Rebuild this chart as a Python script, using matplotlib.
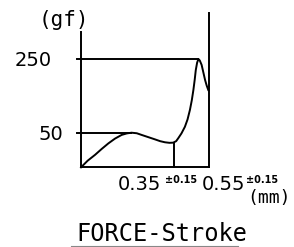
import matplotlib
matplotlib.use('Agg')
import matplotlib.pyplot as plt
import numpy as np

# force-stroke curve, stroke in mm, force in gf (schematic)
stroke = [0.0, 0.025, 0.053, 0.078, 0.103, 0.128, 0.153, 0.172, 0.19, 0.21, 0.228,
          0.253, 0.278, 0.298, 0.316, 0.333, 0.347, 0.358, 0.366, 0.378, 0.391,
          0.401, 0.41, 0.417, 0.423, 0.428, 0.432, 0.437, 0.442, 0.447, 0.454,
          0.461, 0.467, 0.473, 0.479]
force = [-44, -26, -10, 6, 21, 34, 44, 48, 50, 48.5, 44,
         38, 32, 27, 24, 22.5, 23, 27, 35, 48, 66,
         86, 112, 138, 166, 194, 220, 240, 250, 246, 234,
         212, 193, 178, 166]

y_ticks = [50, 250]
y_labels = ['50', '250']
x_marks = [0.35, 0.55]
x_labels = ['0.35', '0.55']
tol = '±0.15'

y_floor = -44
x_end = 0.482
stroke_mark = 0.35
force_at_mark = 23
peak_x = 0.442
hump_x = 0.19

W, H = 294, 247
fig = plt.figure(figsize=(W / 100, H / 100), dpi=100)
ax = fig.add_axes([0, 0, 1, 1])
# map pixel frame onto data: x=0 at px 81, y=50 at py 132.7
ax.set_xlim((0 - 81) / 265.7, (W - 81) / 265.7)
ax.set_ylim(50 - (H - 132.7) / 0.3685, 50 + 132.7 / 0.3685)
ax.axis('off')

lw = 1.4
k = 'black'
# axes frame
ax.plot([0, 0], [y_floor, 323], color=k, lw=lw)
ax.plot([0, x_end], [y_floor, y_floor], color=k, lw=lw)
ax.plot([x_end, x_end], [y_floor, 375], color=k, lw=lw)
# reference lines
ax.plot([-0.015, peak_x], [y_ticks[1], y_ticks[1]], color=k, lw=lw)
ax.plot([-0.015, hump_x], [y_ticks[0], y_ticks[0]], color=k, lw=lw)
ax.plot([stroke_mark, stroke_mark], [y_floor, force_at_mark], color=k, lw=lw)
# curve
ax.plot(stroke, force, color=k, lw=lw, solid_joinstyle='round')

def px(x, y):
    return x / W, 1 - y / H

mono = 'DejaVu Sans Mono'
fig.text(*px(64, 20), '(gf)', fontsize=15, family=mono, ha='center', va='center')
fig.text(*px(33.5, 60), y_labels[1], fontsize=14, ha='center', va='center')
fig.text(*px(50.5, 134), y_labels[0], fontsize=14, ha='center', va='center')

fig.text(*px(139, 185), x_labels[0], fontsize=14, ha='center', va='center')
fig.text(*px(181, 180), tol, fontsize=7, fontweight='bold', ha='center', va='center')
fig.text(*px(223.5, 185), x_labels[1], fontsize=14, ha='center', va='center')
fig.text(*px(262, 180), tol, fontsize=7, fontweight='bold', ha='center', va='center')
fig.text(*px(269, 198), '(mm)', fontsize=13, family=mono, ha='center', va='center')

fig.text(*px(161.5, 233.5), 'FORCE-Stroke', fontsize=17, family=mono, ha='center', va='center')
fig.add_artist(plt.Line2D([71 / W, 238 / W], [1 - 245.5 / H] * 2, color='#888888', lw=0.8))

fig.savefig('out.png', dpi=100)
